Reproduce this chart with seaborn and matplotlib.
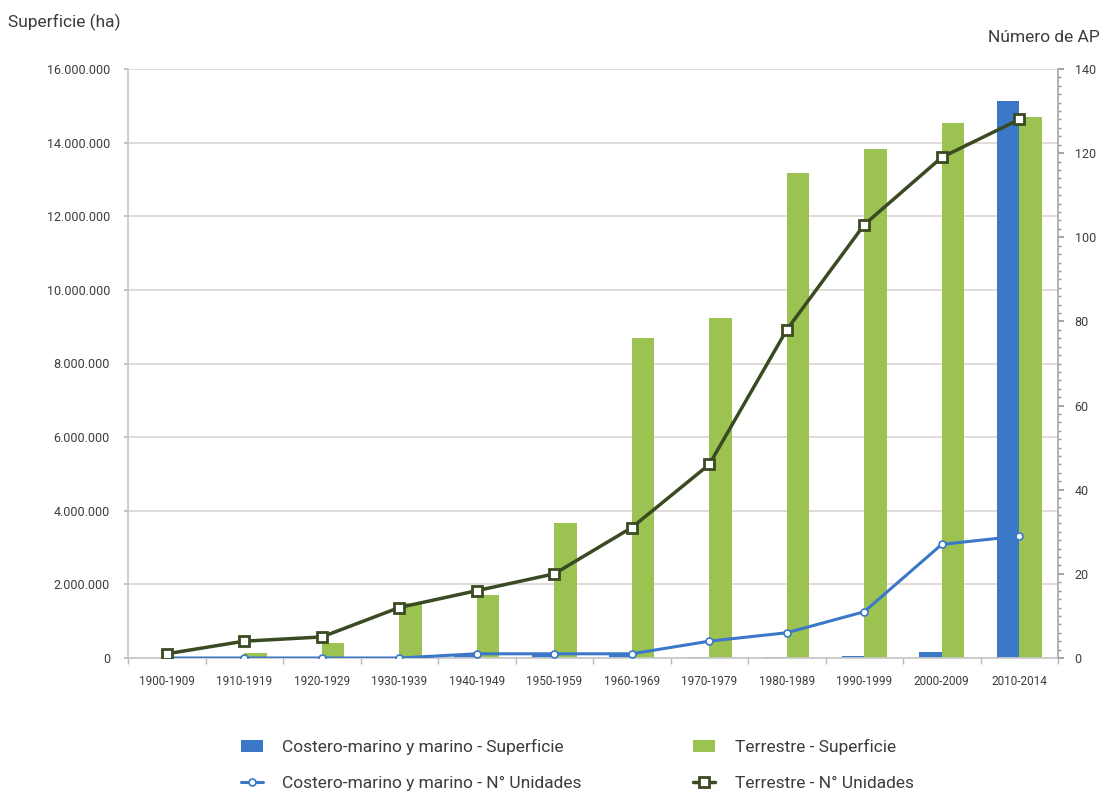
import numpy as np
import pandas as pd
import matplotlib
matplotlib.use("Agg")
import matplotlib.pyplot as plt
import seaborn as sns
from matplotlib.ticker import FuncFormatter, MultipleLocator, FixedLocator

categories = ["1900-1909", "1910-1919", "1920-1929", "1930-1939", "1940-1949",
              "1950-1959", "1960-1969", "1970-1979", "1980-1989", "1990-1999",
              "2000-2009", "2010-2014"]
costero_sup = [0, 0, 0, 0, 80000, 100000, 90000, 30000, 30000, 50000, 170000, 15140000]
terrestre_sup = [20000, 140000, 400000, 1500000, 1710000, 3670000, 8700000, 9240000,
                 13180000, 13830000, 14540000, 14700000]
costero_n = [0, 0, 0, 0, 1, 1, 1, 4, 6, 11, 27, 29]
terrestre_n = [1, 4, 5, 12, 16, 20, 31, 46, 78, 103, 119, 128]

lab_cs = "Costero-marino y marino - Superficie"
lab_ts = "Terrestre - Superficie"
lab_cn = "Costero-marino y marino - N\u00b0 Unidades"
lab_tn = "Terrestre - N\u00b0 Unidades"

BLUE = "#3b78c8"
GREEN = "#9cc352"
DARK = "#3a4a22"
GRID = "#dcd6cf"
TXT = "#3c3c3c"

sns.set_theme(style="white")
plt.rcParams["font.family"] = ["Roboto", "DejaVu Sans"]

df = pd.DataFrame({
    "cat": categories * 2,
    "val": costero_sup + terrestre_sup,
    "serie": [lab_cs] * len(categories) + [lab_ts] * len(categories),
})

fig = plt.figure(figsize=(11.11, 7.99), dpi=100)
ax = fig.add_axes([128 / 1111, 1 - 658 / 799, (1058 - 128) / 1111, (658 - 69) / 799])

sns.barplot(data=df, x="cat", y="val", hue="serie", order=categories,
            hue_order=[lab_cs, lab_ts], palette=[BLUE, GREEN], width=0.58,
            saturation=1, linewidth=0, ax=ax, legend=True)
ax.set_xlim(-0.5, len(categories) - 0.5)
ax.set_ylim(0, 16000000)
ax.yaxis.set_major_locator(MultipleLocator(2000000))
ax.yaxis.set_major_formatter(FuncFormatter(lambda v, p: f"{int(v):,}".replace(",", ".")))
ax.grid(axis="y", color=GRID, linewidth=1.2)
ax.set_axisbelow(True)
ax.set_xlabel("")
ax.set_ylabel("")
for s in ["top", "right"]:
    ax.spines[s].set_visible(False)
ax.spines["left"].set_color("#c8c8c8")
ax.spines["bottom"].set_color("#c8c8c8")
ax.tick_params(axis="y", labelsize=9, colors=TXT, length=3, pad=10, color="#bbbbbb", left=True)
ax.tick_params(axis="x", which="major", length=0, labelsize=8.5, colors=TXT, pad=12)
ax.xaxis.set_minor_locator(FixedLocator(np.arange(len(categories) + 1) - 0.5))
ax.tick_params(axis="x", which="minor", length=4, color="#bbbbbb", bottom=True)

ax2 = ax.twinx()
x = np.arange(len(categories))
sns.lineplot(x=x, y=costero_n, ax=ax2, color=BLUE, linewidth=2.2, marker="o",
             markersize=5, markerfacecolor="white", markeredgecolor=BLUE,
             markeredgewidth=1.2, label=lab_cn)
sns.lineplot(x=x, y=terrestre_n, ax=ax2, color=DARK, linewidth=2.5, marker="s",
             markersize=7, markerfacecolor="white", markeredgecolor=DARK,
             markeredgewidth=2, label=lab_tn)
ax2.set_ylim(0, 140)
ax2.yaxis.set_major_locator(MultipleLocator(20))
ax2.yaxis.set_minor_locator(MultipleLocator(2))
ax2.tick_params(axis="y", which="major", labelsize=9, colors=TXT, length=4, color="#999999", pad=8, right=True)
ax2.tick_params(axis="y", which="minor", length=2, color="#999999", right=True)
for s in ["top", "left", "bottom"]:
    ax2.spines[s].set_visible(False)
ax2.spines["right"].set_color("#aaaaaa")
ax2.spines["right"].set_linestyle((0, (2, 1)))
ax2.set_ylabel("")
ax2.grid(False)

h1, l1 = ax.get_legend_handles_labels()
h2, l2 = ax2.get_legend_handles_labels()
if ax.get_legend():
    ax.get_legend().remove()
if ax2.get_legend():
    ax2.get_legend().remove()
hd = dict(zip(l1 + l2, h1 + h2))
order = [lab_cs, lab_cn, lab_ts, lab_tn]
fig.legend([hd[k] for k in order], order, loc="upper left",
           bbox_to_anchor=(225 / 1111, 1 - 723 / 799), ncol=2, frameon=False,
           fontsize=12.5, labelcolor=TXT, columnspacing=6.4, labelspacing=1.2,
           handlelength=1.3, handletextpad=1.1)

fig.text(8 / 1111, 1 - 22 / 799, "Superficie (ha)", fontsize=12.5, color=TXT, ha="left", va="center")
fig.text(1100 / 1111, 1 - 37 / 799, "N\u00famero de AP", fontsize=12.5, color=TXT, ha="right", va="center")

fig.savefig("out.png", dpi=100, facecolor="white")
